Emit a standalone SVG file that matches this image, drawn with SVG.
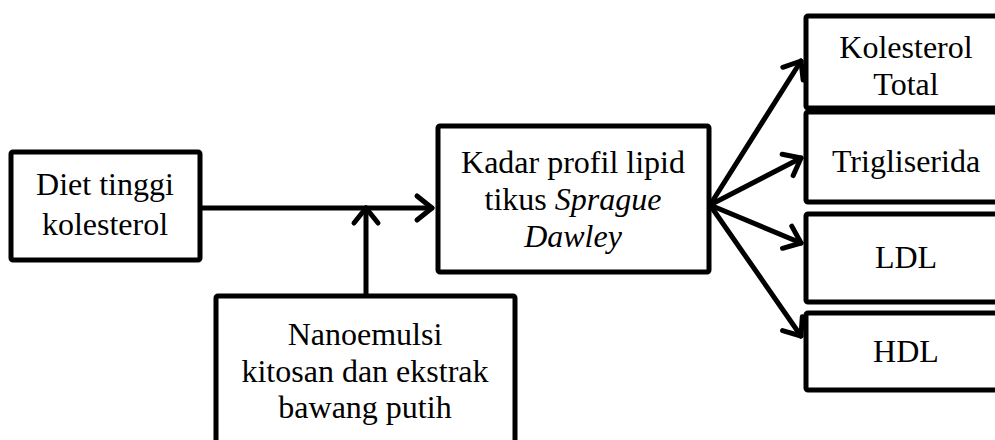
<svg xmlns="http://www.w3.org/2000/svg" width="995" height="440" viewBox="0 0 995 440">
<defs>
<style>
.box{fill:#fff;stroke:#000;stroke-width:5;stroke-linejoin:round}
.t{font-family:"Liberation Serif","Times New Roman",serif;font-size:32px;fill:#000;text-anchor:middle}
.c{fill:none;stroke:#000;stroke-width:5;stroke-linecap:round;stroke-linejoin:round}
</style>
<marker id="ah" viewBox="0 0 12 12" refX="11" refY="6" markerWidth="12" markerHeight="12" markerUnits="userSpaceOnUse" orient="auto" overflow="visible">
<path d="M-4,-6 L11,6 L-4,18" fill="none" stroke="#000" stroke-width="5" stroke-linecap="round" stroke-linejoin="round"/>
</marker>
</defs>
<rect width="995" height="440" fill="#fff"/>
<g id="connectors">
<line class="c" x1="200" y1="208" x2="432" y2="208" marker-end="url(#ah)"/>
<line class="c" x1="366" y1="295" x2="366" y2="208" marker-end="url(#ah)"/>
<line class="c" x1="710" y1="205" x2="801" y2="61" marker-end="url(#ah)"/>
<line class="c" x1="710" y1="205" x2="801" y2="158" marker-end="url(#ah)"/>
<line class="c" x1="710" y1="205" x2="801" y2="243" marker-end="url(#ah)"/>
<line class="c" x1="710" y1="205" x2="801" y2="336" marker-end="url(#ah)"/>
</g>
<g id="diet">
<rect class="box" x="11" y="152" width="189" height="108" rx="2"/>
<text class="t" x="105" y="195">Diet tinggi</text>
<text class="t" x="105" y="235">kolesterol</text>
</g>
<g id="nano">
<rect class="box" x="216" y="296" width="299" height="160" rx="2"/>
<text class="t" x="365" y="345">Nanoemulsi</text>
<text class="t" x="365" y="382">kitosan dan ekstrak</text>
<text class="t" x="365" y="418">bawang putih</text>
</g>
<g id="kadar">
<rect class="box" x="438" y="126" width="271" height="146" rx="2"/>
<text class="t" x="573" y="173">Kadar profil lipid</text>
<text class="t" x="573" y="210">tikus <tspan font-style="italic">Sprague</tspan></text>
<text class="t" x="573" y="247" font-style="italic">Dawley</text>
</g>
<g id="kolesterol-total">
<rect class="box" x="806" y="16" width="200" height="92" rx="2"/>
<text class="t" x="906" y="58">Kolesterol</text>
<text class="t" x="906" y="95">Total</text>
</g>
<g id="trigliserida">
<rect class="box" x="806" y="112" width="200" height="90" rx="2"/>
<text class="t" x="906" y="172">Trigliserida</text>
</g>
<g id="ldl">
<rect class="box" x="806" y="214" width="200" height="88" rx="2"/>
<text class="t" x="906" y="268">LDL</text>
</g>
<g id="hdl">
<rect class="box" x="806" y="313" width="200" height="77" rx="2"/>
<text class="t" x="906" y="362">HDL</text>
</g>
</svg>
